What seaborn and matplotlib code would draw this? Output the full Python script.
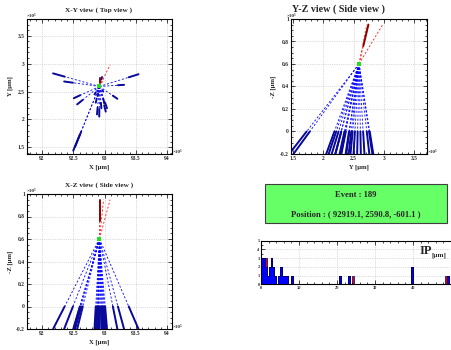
import numpy as np
import pandas as pd
import seaborn as sns
import matplotlib
matplotlib.use("Agg")
import matplotlib.pyplot as plt
from matplotlib.ticker import MultipleLocator, FuncFormatter
from matplotlib.patches import Rectangle


# vertex position [um]
EVENT = 189
VTX_X, VTX_Y, VTX_Z = 92919.1, 2590.8, -601.1

# blue (downstream) tracks: end points at Z = +200 um
BLUE_END_X = [92177, 92354, 92509, 92563, 93206, 93313, 93544, 92500, 92530,
              92916, 92880, 93020, 92950, 92860, 93000, 92840, 92980, 92900,
              92960, 93040, 92890]
BLUE_END_Y = [2825, 2680, 2380, 2270, 2370, 2620, 2810, 1440, 1510,
              2050, 2090, 2140, 2200, 2300, 2290, 2450, 2500, 2560,
              2760, 2200, 2420]
BLUE_END_Z = 200.0
# start of the measured (solid) segment of each blue track, at Z = 0 um
BLUE_SEG_X = [92362, 92495, 92611, 92652, 93134, 93215, 93388, 92605, 92627,
              92917, 92890, 92995, 92942, 92875, 92980, 92860, 92965, 92905,
              92950, 93010, 92897]
BLUE_SEG_Y = [2767, 2658, 2433, 2350, 2425, 2613, 2755, 1727, 1780,
              2185, 2215, 2253, 2298, 2373, 2365, 2485, 2523, 2568,
              2718, 2298, 2463]
BLUE_SEG_Z = 0.0

# red (upstream) tracks: end points at Z = -950 um
RED_END_X = [93090, 92920, 92985]
RED_END_Y = [2980, 2745, 2720]
RED_END_Z = -950.0
RED_SEG_X = [92920]
RED_SEG_Y = [2661]
RED_SEG_Z = [-760.0]
RED_SEG_END = [1]  # index of red track that carries the solid segment

# impact parameters [um]
IP_BLUE = [0.1, 0.2, 0.3, 0.6, 0.7, 0.9, 1.1, 1.3, 1.7, 2.1, 2.3, 2.6, 2.7,
           2.9, 3.1, 3.3, 3.7, 4.7, 5.1, 5.3, 5.7, 6.2, 6.7, 8.2, 20.7, 23.3,
           39.8, 39.9, 49.3]
IP_RED = [1.2, 24.3, 48.8]

W, H = 451, 350

sns.set_style("ticks")
plt.rcParams["font.family"] = ["Liberation Serif", "DejaVu Serif"]
plt.rcParams["font.weight"] = "bold"


def px(x0, y0, x1, y1):
    # pixel box -> figure fraction
    return [x0 / W, 1 - y1 / H, (x1 - x0) / W, (y1 - y0) / H]


def seg_frame(x0, y0, z0, x1, y1, z1):
    rows = []
    for i in range(len(x1)):
        rows.append(dict(trk=i, X=x0[i], Y=y0[i], mZ=-z0[i]))
        rows.append(dict(trk=i, X=x1[i], Y=y1[i], mZ=-z1[i]))
    df = pd.DataFrame(rows)
    df[["X", "Y", "mZ"]] = df[["X", "Y", "mZ"]] / 1000.0
    return df


n_b = len(BLUE_END_X)
blue_dash = seg_frame([VTX_X] * n_b, [VTX_Y] * n_b, [VTX_Z] * n_b,
                      BLUE_END_X, BLUE_END_Y, [BLUE_END_Z] * n_b)
blue_seg = seg_frame(BLUE_SEG_X, BLUE_SEG_Y, [BLUE_SEG_Z] * n_b,
                     BLUE_END_X, BLUE_END_Y, [BLUE_END_Z] * n_b)
n_r = len(RED_END_X)
red_dash = seg_frame([VTX_X] * n_r, [VTX_Y] * n_r, [VTX_Z] * n_r,
                     RED_END_X, RED_END_Y, [RED_END_Z] * n_r)
red_seg = seg_frame(RED_SEG_X, RED_SEG_Y, RED_SEG_Z,
                    [RED_END_X[i] for i in RED_SEG_END],
                    [RED_END_Y[i] for i in RED_SEG_END],
                    [RED_END_Z] * len(RED_SEG_END))

fmt = FuncFormatter(lambda v, p: f"{v:g}")


def style_axes(ax, xlim, ylim, xstep, xminor, ystep, yminor):
    ax.set_xlim(*xlim)
    ax.set_ylim(*ylim)
    ax.xaxis.set_major_locator(MultipleLocator(xstep))
    ax.xaxis.set_minor_locator(MultipleLocator(xminor))
    ax.yaxis.set_major_locator(MultipleLocator(ystep))
    ax.yaxis.set_minor_locator(MultipleLocator(yminor))
    ax.xaxis.set_major_formatter(fmt)
    ax.yaxis.set_major_formatter(fmt)
    ax.tick_params(which="both", direction="in", top=True, right=True,
                   labelsize=4, width=0.5, pad=1.5, color="black")
    ax.tick_params(which="major", length=3)
    ax.tick_params(which="minor", length=1.5)
    ax.grid(True, which="major", ls=":", color="#b8b8b8", lw=0.5)
    for s in ax.spines.values():
        s.set_linewidth(0.8)
        s.set_color("black")
    ax.set_xlabel("")
    ax.set_ylabel("")


DASH = (0, (2.5, 2.2))


def draw_view(ax, h, v):
    sns.lineplot(data=blue_dash, x=h, y=v, units="trk", estimator=None,
                 sort=False, color="#0000ff", lw=0.6, linestyle=DASH,
                 ax=ax, legend=False)
    sns.lineplot(data=red_dash, x=h, y=v, units="trk", estimator=None,
                 sort=False, color="#ff1a1a", lw=0.6, linestyle=DASH,
                 ax=ax, legend=False)
    sns.lineplot(data=blue_seg, x=h, y=v, units="trk", estimator=None,
                 sort=False, color="#0a0a9a", lw=1.4, ax=ax, legend=False)
    sns.lineplot(data=red_seg, x=h, y=v, units="trk", estimator=None,
                 sort=False, color="#8b0000", lw=1.4, ax=ax, legend=False)
    vtx = {"X": VTX_X / 1000, "Y": VTX_Y / 1000, "mZ": -VTX_Z / 1000}
    ax.plot([vtx[h]], [vtx[v]], "s", color="#22dd22", ms=3, mew=0, zorder=5)


fig = plt.figure(figsize=(W / 100, H / 100), dpi=100)

# X-Y view
ax_xy = fig.add_axes(px(27, 19, 172, 154))
draw_view(ax_xy, "X", "Y")
style_axes(ax_xy, (91.76, 94.08), (1.38, 3.80), 0.5, 0.1, 0.5, 0.1)

# Y-Z view
ax_yz = fig.add_axes(px(291, 19, 427, 154))
draw_view(ax_yz, "Y", "mZ")
style_axes(ax_yz, (1.47, 3.71), (-0.2, 1.0), 0.5, 0.1, 0.2, 0.05)

# X-Z view
ax_xz = fig.add_axes(px(27, 194, 172, 329))
draw_view(ax_xz, "X", "mZ")
style_axes(ax_xz, (91.76, 94.08), (-0.2, 1.0), 0.5, 0.1, 0.2, 0.05)

# titles and axis labels
fig.text(99 / W, 1 - 10.5 / H, "X-Y view ( Top view )", ha="center",
         va="center", fontsize=5.2, fontweight="bold")
fig.text(339 / W, 1 - 9.5 / H, "Y-Z view ( Side view )", ha="center",
         va="center", fontsize=7.2, fontweight="bold")
fig.text(99 / W, 1 - 185.5 / H, "X-Z view ( Side view )", ha="center",
         va="center", fontsize=5.2, fontweight="bold")

for (xl, yl, xc, yc), (xb, yb) in [
        (("X [μm]", "Y [μm]", 99.5, 86.5), (10, 167)),
        (("Y [μm]", "-Z [μm]", 359, 86.5), (273, 167)),
        (("X [μm]", "-Z [μm]", 99.5, 261.5), (10, 342))]:
    fig.text(xc / W, 1 - yb / H, xl, ha="center", va="center", fontsize=4.8)
    fig.text(xb / W, 1 - yc / H, yl, ha="center", va="center", fontsize=4.8,
             rotation=90)

for x0, y0 in [(27, 18), (287, 18), (27, 193)]:
    fig.text(x0 / W, 1 - y0 / H, "×10³", ha="left", va="bottom", fontsize=3.6)
for x0, y0 in [(173, 152), (428, 152), (173, 327)]:
    fig.text(x0 / W, 1 - y0 / H, "×10³", ha="left", va="center", fontsize=3.6)

# event info box
fig.add_artist(Rectangle((265 / W, 1 - 223 / H), 182 / W, 39 / H,
                         transform=fig.transFigure, facecolor="#66ff66",
                         edgecolor="#404040", lw=0.8))
fig.text(356 / W, 1 - 195 / H, f"Event : {EVENT}", ha="center", va="center",
         fontsize=6.2, fontweight="bold")
fig.text(356 / W, 1 - 214 / H,
         f"Position : ( {VTX_X:.1f}, {VTX_Y:.1f}, {VTX_Z:.1f} )",
         ha="center", va="center", fontsize=6.2, fontweight="bold")

# impact parameter histogram (pad runs past the right edge of the canvas)
ip_df = pd.DataFrame({
    "ip": IP_BLUE + IP_RED,
    "kind": ["blue"] * len(IP_BLUE) + ["red"] * len(IP_RED),
})
ax_ip = fig.add_axes(px(261, 240.7, 261 + 60 * 3.8, 284.3))
sns.histplot(data=ip_df, x="ip", hue="kind", hue_order=["red", "blue"],
             palette={"blue": "#0000ff", "red": "#dd0000"}, multiple="stack",
             binwidth=0.5, binrange=(0, 60), element="step", alpha=1,
             edgecolor="#000070", linewidth=0.5, legend=False, ax=ax_ip)
style_axes(ax_ip, (0, 60), (0, 5), 10, 2, 1, 0.5)
ax_ip.xaxis.set_major_formatter(
    FuncFormatter(lambda v, p: f"{v:g}" if v < 45 else ""))
ax_ip.tick_params(labelsize=3.2, pad=1)
fig.text(420 / W, 1 - 251 / H, "IP", ha="left", va="center", fontsize=9,
         fontweight="bold")
fig.text(431 / W, 1 - 255.5 / H, "[μm]", ha="left", va="center", fontsize=5.2,
         fontweight="bold")

fig.savefig("out.png", dpi=100)
